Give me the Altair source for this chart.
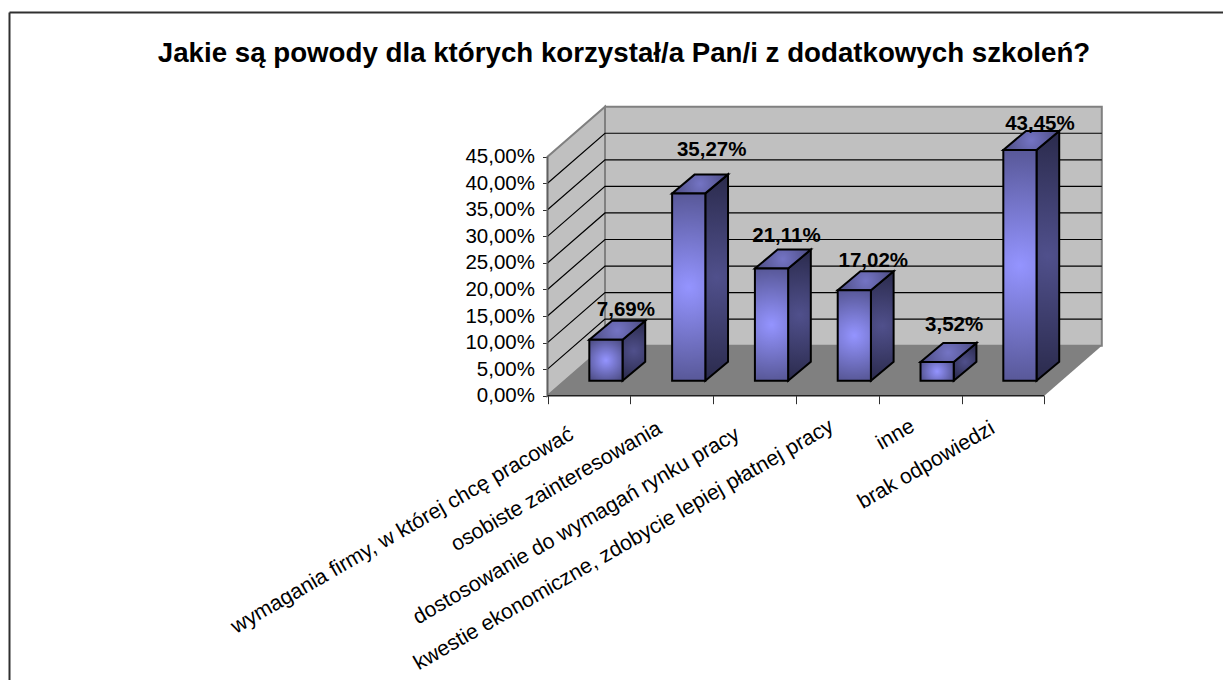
import altair as alt
import pandas as pd

# ---- chart values
categories = [
    "wymagania firmy, w której chcę pracować",
    "osobiste zainteresowania",
    "dostosowanie do wymagań rynku pracy",
    "kwestie ekonomiczne, zdobycie lepiej płatnej pracy",
    "inne",
    "brak odpowiedzi",
]
values = [7.69, 35.27, 21.11, 17.02, 3.52, 43.45]
value_labels = ["7,69%", "35,27%", "21,11%", "17,02%", "3,52%", "43,45%"]
y_ticks = [0, 5, 10, 15, 20, 25, 30, 35, 40, 45]
title_text = "Jakie są powody dla których korzystał/a Pan/i z dodatkowych szkoleń?"

# ---- layout (page pixels)
W, H = 1215, 672
PX_X0, PX_Y0 = 547.5 - 8, 395.7 - 8     # category 0 / 0% inside the plot
PX_CAT, PX_PCT = 82.8, 5.311            # pixels per category / per percent
WALL_DX, WALL_DY = 57.5 / PX_CAT, 50 / PX_PCT
BAR_X, BAR_W = 0.505, 33.2 / PX_CAT
BAR_Y = 15 / PX_PCT
BAR_DX, BAR_DY = 22.7 / PX_CAT, 19 / PX_PCT
# distance of each data label from the bar's front centre / back top edge, pixels
LBL_DX = [20, 23, 15, 19, 17, 20]
LBL_DY = [11, 24, 14, 10, 18, 7]
# right end of each rotated category label, page pixels
CAT_END_X = [572, 660, 738, 832, 913, 993]
CAT_END_Y = [433, 427, 433, 425, 425, 427]

XS = alt.Scale(domain=[-PX_X0 / PX_CAT, (W - PX_X0) / PX_CAT], nice=False, zero=False)
YS = alt.Scale(domain=[-(H - PX_Y0) / PX_PCT, PX_Y0 / PX_PCT], nice=False, zero=False)
FONT = "Liberation Sans"

n = len(categories)

axis_y = alt.Axis(
    values=y_ticks, offset=-PX_X0, domain=False, grid=False, tickSize=5, tickColor="#303030",
    labelFont=FONT, labelFontSize=20.5, labelColor="black", labelPadding=8,
    labelExpr="replace(format(datum.value, '.2f'), '.', ',') + '%'", title=None,
)
axis_x = alt.Axis(
    values=list(range(n + 1)), offset=-(H - PX_Y0), domain=False, grid=False, tickSize=8,
    tickColor="#303030", labels=False, title=None,
)


def X(f="x"):
    return alt.X(f"{f}:Q", scale=XS, title=None, axis=axis_x)


def Y(f="y"):
    return alt.Y(f"{f}:Q", scale=YS, title=None, axis=axis_y)


def radial(inner, outer, r=0.72):
    return alt.RadialGradient(
        gradient="radial", x1=0.5, y1=0.5, r1=0, x2=0.5, y2=0.5, r2=r,
        stops=[alt.GradientStop(offset=0, color=inner),
               alt.GradientStop(offset=1, color=outer)],
    )


# walls, floor
back = pd.DataFrame([{"x": WALL_DX, "x2": n + WALL_DX, "y": WALL_DY, "y2": 45 + WALL_DY}])
side = pd.DataFrame([
    {"x": 0, "y": 0, "y2": 45},
    {"x": WALL_DX, "y": WALL_DY, "y2": 45 + WALL_DY},
])
floor = pd.DataFrame([
    {"y": 0, "x": 0, "x2": n},
    {"y": WALL_DY, "x": WALL_DX, "x2": n + WALL_DX},
])
grid_rows = []
for v in y_ticks[1:-1]:
    grid_rows += [
        {"g": v, "o": 0, "x": 0, "y": v},
        {"g": v, "o": 1, "x": WALL_DX, "y": v + WALL_DY},
        {"g": v, "o": 2, "x": n + WALL_DX, "y": v + WALL_DY},
    ]
grid = pd.DataFrame(grid_rows)

front_rows, side_rows, top_rows, lbl_rows, cat_rows = [], [], [], [], []
for i, (c, v, t) in enumerate(zip(categories, values, value_labels)):
    x0, x1 = i + BAR_X, i + BAR_X + BAR_W
    front_rows.append({"x": x0, "x2": x1, "y": BAR_Y, "y2": BAR_Y + v})
    side_rows += [
        {"b": i, "x": x1, "y": BAR_Y, "y2": BAR_Y + v},
        {"b": i, "x": x1 + BAR_DX, "y": BAR_Y + BAR_DY, "y2": BAR_Y + v + BAR_DY},
    ]
    top_rows += [
        {"b": i, "y": BAR_Y + v, "x": x0, "x2": x1},
        {"b": i, "y": BAR_Y + v + BAR_DY, "x": x0 + BAR_DX, "x2": x1 + BAR_DX},
    ]
    lbl_rows.append({
        "x": (x0 + x1) / 2 + LBL_DX[i] / PX_CAT,
        "y": BAR_Y + v + BAR_DY + LBL_DY[i] / PX_PCT,
        "t": t,
    })
    cat_rows.append({
        "x": (CAT_END_X[i] - 8 - PX_X0) / PX_CAT,
        "y": (PX_Y0 - (CAT_END_Y[i] - 8)) / PX_PCT,
        "t": c,
    })

l_back = alt.Chart(back).mark_rect(fill="#C0C0C0", stroke="#808080", strokeWidth=2).encode(
    x=X(), x2="x2:Q", y=Y(), y2="y2:Q")
l_side = alt.Chart(side).mark_area(fill="#C0C0C0", stroke="#808080", strokeWidth=2).encode(
    x=X(), y=Y(), y2="y2:Q")
l_floor = alt.Chart(floor).mark_area(orient="horizontal", fill="#808080").encode(
    y=Y(), x=X(), x2="x2:Q")
l_grid = alt.Chart(grid).mark_line(color="#000000", strokeWidth=1.2).encode(
    x=X(), y=Y(), detail="g:N", order="o:Q")
l_axis_y = alt.Chart(pd.DataFrame([{"x": 0, "y": 0, "y2": 45}])).mark_rule(
    color="#606060", strokeWidth=1.5).encode(x=X(), y=Y(), y2="y2:Q")
l_axis_x = alt.Chart(pd.DataFrame([{"x": 0, "x2": n, "y": 0}])).mark_rule(
    color="#202020", strokeWidth=1.5).encode(x=X(), x2="x2:Q", y=Y())

BAR_STROKE = dict(stroke="#000000", strokeWidth=2)
l_bside = alt.Chart(pd.DataFrame(side_rows)).mark_area(
    fill=radial("#50508C", "#1A1A30"), **BAR_STROKE).encode(
    x=X(), y=Y(), y2="y2:Q", detail="b:N")
l_btop = alt.Chart(pd.DataFrame(top_rows)).mark_area(
    orient="horizontal", fill=radial("#7474C4", "#3C3C68"), **BAR_STROKE).encode(
    y=Y(), x=X(), x2="x2:Q", detail="b:N")
l_bfront = alt.Chart(pd.DataFrame(front_rows)).mark_bar(
    fill=radial("#9494FF", "#4A4A80", r=0.62), **BAR_STROKE).encode(
    x=X(), x2="x2:Q", y=Y(), y2="y2:Q")

l_values = alt.Chart(pd.DataFrame(lbl_rows)).mark_text(
    font=FONT, fontSize=20.5, fontWeight="bold", color="black", baseline="middle").encode(
    x=X(), y=Y(), text="t:N")
l_cats = alt.Chart(pd.DataFrame(cat_rows)).mark_text(
    font=FONT, fontSize=21.3, color="black", align="right", baseline="middle", angle=330).encode(
    x=X(), y=Y(), text="t:N")

l_frame_left = alt.Chart(pd.DataFrame([{"k": 1}])).mark_rule(color="#303030", strokeWidth=2).encode(
    x=alt.value(1.5), y=alt.value(4.5), y2=alt.value(H))
l_frame_top = alt.Chart(pd.DataFrame([{"k": 1}])).mark_rule(color="#303030", strokeWidth=2).encode(
    x=alt.value(1.5), x2=alt.value(W), y=alt.value(4.5))

chart = alt.layer(
    l_back, l_side, l_floor, l_grid, l_axis_y, l_axis_x,
    l_bside, l_btop, l_bfront, l_values, l_cats, l_frame_left, l_frame_top,
).properties(
    width=W, height=H, padding=0, autosize=alt.AutoSizeParams(type="none"),
    title=alt.TitleParams(
        title_text, font=FONT, fontSize=27.7, fontWeight="bold", color="black",
        anchor="start", align="center", baseline="middle", orient="top",
        offset=-74, dx=616,
    ),
).configure_view(stroke=None)

chart.save("out.html", embed_options={"renderer": "svg", "actions": False})
